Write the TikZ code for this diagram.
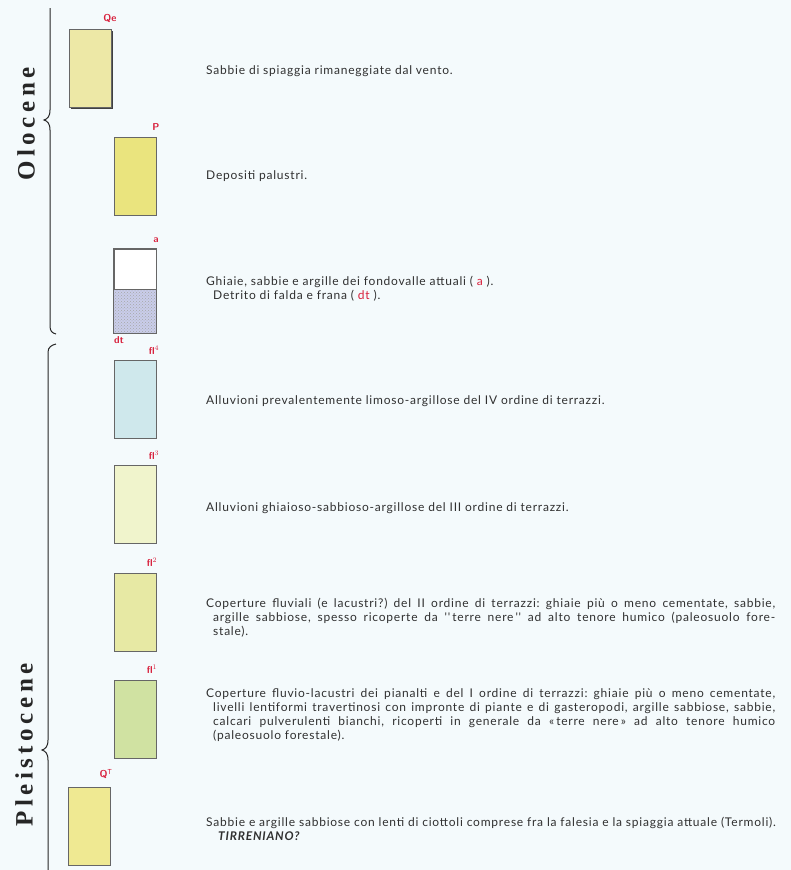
\documentclass[tikz,border=0pt]{standalone}
\usepackage{fontspec}
\setmainfont{Lato}
\newfontfamily\descfont[LetterSpace=6.5]{Lato}
\newfontfamily\erafont[LetterSpace=18]{Liberation Serif}
\usetikzlibrary{shadows,patterns}
\definecolor{bgc}{HTML}{F4FAFC}
\definecolor{cQe}{HTML}{EDE8A6}
\definecolor{cP}{HTML}{EAE47E}
\definecolor{cdt}{HTML}{C9CDEA}
\definecolor{cfl4}{HTML}{CFE8EC}
\definecolor{cfl3}{HTML}{F0F4CC}
\definecolor{cfl2}{HTML}{E7E9A4}
\definecolor{cfl1}{HTML}{D0E2A2}
\definecolor{cQT}{HTML}{EFE992}
\definecolor{lblred}{HTML}{D8203C}
\definecolor{txt}{HTML}{303030}
\newcommand{\hangpar}{\leftskip=7pt\rightskip=0pt\spaceskip=0pt\xspaceskip=0pt\parfillskip=0pt plus 1fil\parindent=0pt\noindent\hskip-7pt}
\begin{document}
\frenchspacing
\begin{tikzpicture}[x=1pt,y=-1pt,
  unit/.style={draw=black!60, line width=0.6pt, minimum width=42pt, minimum height=78pt, inner sep=0pt,
    drop shadow={shadow xshift=1.4pt, shadow yshift=-1.4pt, fill=black!75, opacity=1}},
  lbl/.style={text=lblred, font=\sffamily\bfseries\fontsize{10}{10}\selectfont, inner sep=0pt},
  desc/.style={anchor=base west, inner sep=0pt, text=txt, font=\descfont\fontsize{12}{14}\selectfont},
  para/.style={anchor=north west, inner sep=0pt, text=txt, text width=569pt,
    font=\descfont\fontsize{12}{14}\selectfont},
  era/.style={rotate=90, font=\erafont\bfseries\fontsize{25}{25}\selectfont, text=black!85, inner sep=0pt},
  brace/.style={draw=black!85, line width=1pt}]
\fill[bgc] (0,0) rectangle (791,870);
\useasboundingbox (0,0) rectangle (791,870);

% era braces
\draw[brace] (50,8) -- (50,110) .. controls (50,117) and (47,119) .. (44,120)
  .. controls (47,121) and (50,123) .. (50,130) -- (50,326) .. controls (50,331) and (52,333) .. (56,334);
\draw[brace] (56,344) .. controls (52,345) and (48,347) .. (48,352) -- (48,740)
  .. controls (48,747) and (45,749) .. (42,750) .. controls (45,751) and (48,753) .. (48,760) -- (48,870);
\node[era] (olo) at (26,124) {Olocene};
\node[era] (ple) at (24,745) {Pleistocene};

% boxes
\node[unit, fill=cQe] (Qe) at (90.5,68.5) {};
\node[unit, fill=cP] (P) at (135,176) {};
\node[unit, fill=white, minimum height=84pt] (a) at (135,291) {};
\fill[cdt] (114,289) rectangle (156,333);
\fill[pattern=crosshatch dots, pattern color=black!35] (114,289) rectangle (156,333);
\draw[black!60, line width=0.6pt] (114,289) -- (156,289);
\draw[black!60, line width=0.6pt] (a.north west) rectangle (a.south east);
\node[unit, fill=cfl4] (fl4) at (135,399) {};
\node[unit, fill=cfl3] (fl3) at (135,504) {};
\node[unit, fill=cfl2] (fl2) at (135,612) {};
\node[unit, fill=cfl1] (fl1) at (135,719) {};
\node[unit, fill=cQT] (QT) at (89,826) {};

% labels
\node[lbl] (lQe) at (110,18) {Qe};
\node[lbl] (lP) at (156,127) {P};
\node[lbl] (la) at (156,240) {a};
\node[lbl] (ldt) at (119,340) {dt};
\node[lbl] (lfl4) at (154,350) {fl$^{4}$};
\node[lbl] (lfl3) at (154,455) {fl$^{3}$};
\node[lbl] (lfl2) at (152,562) {fl$^{2}$};
\node[lbl] (lfl1) at (152,669) {fl$^{1}$};
\node[lbl] (lQT) at (106,774) {Q$^{\mathrm{T}}$};

% descriptions
\node[desc] (tQe) at (206,74) {Sabbie di spiaggia rimaneggiate dal vento.};
\node[desc] (tP) at (206,179) {Depositi palustri.};
\node[desc] (ta1) at (206,285) {Ghiaie, sabbie e argille dei fondovalle attuali ( \textcolor{lblred}{a} ).};
\node[desc] (ta2) at (213,299) {Detrito di falda e frana ( \textcolor{lblred}{dt} ).};
\node[desc] (tfl4) at (206,404) {Alluvioni prevalentemente limoso-argillose del IV ordine di terrazzi.};
\node[desc] (tfl3) at (206,511) {Alluvioni ghiaioso-sabbioso-argillose del III ordine di terrazzi.};
\node[para] (tfl2) at (206,598) {\hangpar
  Coperture fluviali (e lacustri?) del II ordine di terrazzi: ghiaie più o meno cementate, sabbie,\linebreak
  argille sabbiose, spesso ricoperte da ''\,terre nere\,'' ad alto tenore humico (paleosuolo fore-\linebreak
  stale).\par};
\node[para] (tfl1) at (206,688) {\hangpar
  Coperture fluvio-lacustri dei pianalti e del I ordine di terrazzi: ghiaie più o meno cementate,\linebreak
  livelli lentiformi travertinosi con impronte di piante e di gasteropodi, argille sabbiose, sabbie,\linebreak
  calcari pulverulenti bianchi, ricoperti in generale da «\,terre nere\,» ad alto tenore humico\linebreak
  (paleosuolo forestale).\par};
\node[desc] (tQT1) at (206,826) {Sabbie e argille sabbiose con lenti di ciottoli comprese fra la falesia e la spiaggia attuale (Termoli).};
\node[desc, font=\descfont\bfseries\itshape\fontsize{12}{14}\selectfont] (tQT2) at (218,840) {TIRRENIANO?};
\end{tikzpicture}
\end{document}
